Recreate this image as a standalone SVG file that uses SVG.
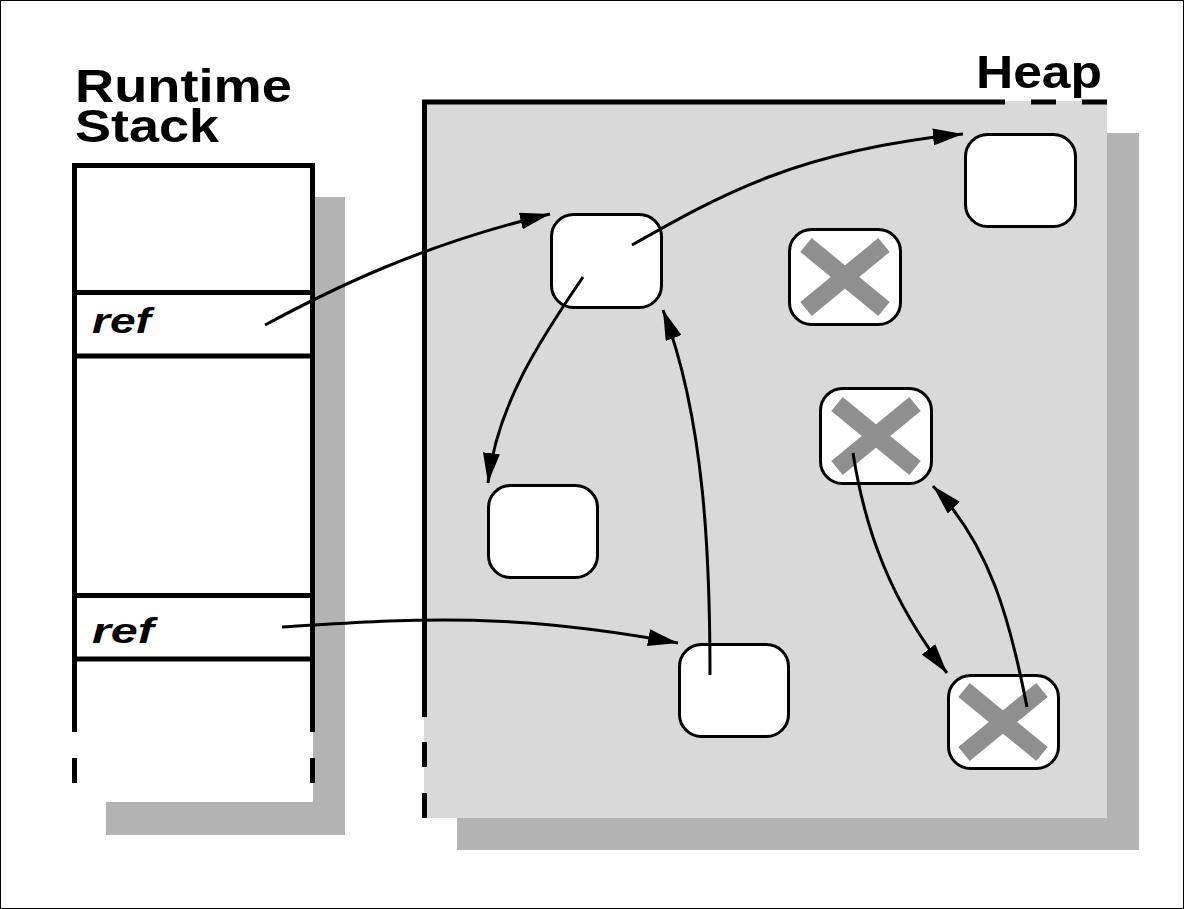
<svg xmlns="http://www.w3.org/2000/svg" width="1184" height="909" viewBox="0 0 1184 909">
<style>
.shadow{fill:#b3b3b3}
.edge{stroke:#000;stroke-width:5;fill:none}
.node{fill:#fff;stroke:#000;stroke-width:3}
.cross{stroke:#8f8f8f;stroke-width:18;stroke-linecap:butt;fill:none}
.conn{stroke:#000;stroke-width:3;fill:none;marker-end:url(#ah)}
.title{font-family:"Liberation Sans",Arial,sans-serif;font-weight:bold;font-size:47px;fill:#000}
.ref{font-family:"Liberation Sans",Arial,sans-serif;font-weight:bold;font-style:italic;font-size:35px;fill:#000}
</style>
<defs>
<marker id="ah" viewBox="0 0 30 17" refX="30" refY="8.5" markerWidth="30" markerHeight="17" markerUnits="userSpaceOnUse" orient="auto">
<path d="M0,0 L30,8.5 L0,17 z" fill="#000"/>
</marker>
</defs>
<rect x="0" y="0" width="1184" height="909" fill="#fff"/>
<rect x="0.5" y="0.5" width="1183" height="908" fill="none" stroke="#000" stroke-width="1"/>

<g id="stack">
<rect class="shadow" x="106" y="197" width="239" height="638"/>
<rect x="74" y="165" width="239" height="637" fill="#fff"/>
<line class="edge" x1="72" y1="165.5" x2="315" y2="165.5"/>
<line class="edge" x1="74.5" y1="163" x2="74.5" y2="732"/>
<line class="edge" x1="74.5" y1="758" x2="74.5" y2="783"/>
<line class="edge" x1="312.5" y1="163" x2="312.5" y2="732"/>
<line class="edge" x1="312.5" y1="758" x2="312.5" y2="783"/>
<line class="edge" x1="74" y1="292.5" x2="313" y2="292.5"/>
<line class="edge" x1="74" y1="356" x2="313" y2="356"/>
<line class="edge" x1="74" y1="595.5" x2="313" y2="595.5"/>
<line class="edge" x1="74" y1="659" x2="313" y2="659"/>
<text class="title"><tspan x="75" y="102" textLength="217" lengthAdjust="spacingAndGlyphs">Runtime</tspan><tspan x="75" y="142" textLength="144" lengthAdjust="spacingAndGlyphs">Stack</tspan></text>
<text class="ref" x="92" y="333" textLength="59" lengthAdjust="spacingAndGlyphs">ref</text>
<text class="ref" x="92" y="643" textLength="62" lengthAdjust="spacingAndGlyphs">ref</text>
</g>

<g id="heap">
<rect class="shadow" x="457" y="133" width="682" height="717"/>
<rect x="424" y="101" width="683" height="717" fill="#d9d9d9"/>
<line class="edge" x1="422" y1="102" x2="1005" y2="102"/>
<line class="edge" x1="1031" y1="102" x2="1056" y2="102"/>
<line class="edge" x1="1082" y1="102" x2="1107" y2="102"/>
<line class="edge" x1="424.5" y1="100" x2="424.5" y2="717"/>
<line class="edge" x1="424.5" y1="742" x2="424.5" y2="767"/>
<line class="edge" x1="424.5" y1="793" x2="424.5" y2="818"/>
<text class="title" x="976" y="88" textLength="126" lengthAdjust="spacingAndGlyphs">Heap</text>
</g>

<g id="obj1"><rect class="node" x="965.5" y="134.5" width="110" height="92" rx="22"/></g>
<g id="obj2"><rect class="node" x="551.5" y="214.5" width="110" height="93" rx="22"/></g>
<g id="obj3">
<rect class="node" x="789.5" y="229.5" width="111" height="95" rx="22"/>
<path class="cross" d="M806,245 L884,309 M884,245 L806,309"/>
</g>
<g id="obj4">
<rect class="node" x="820.5" y="388.5" width="111" height="95" rx="22"/>
<path class="cross" d="M837,404 L915,468 M915,404 L837,468"/>
</g>
<g id="obj5"><rect class="node" x="488.5" y="485.5" width="109" height="92" rx="22"/></g>
<g id="obj6"><rect class="node" x="679.5" y="644.5" width="109" height="92" rx="22"/></g>
<g id="obj7">
<rect class="node" x="948.5" y="675.5" width="110" height="93" rx="22"/>
<path class="cross" d="M964,690 L1042,754 M1042,690 L964,754"/>
</g>

<g id="connectors">
<path class="conn" d="M265,325 C330,290 420,245 550,214"/>
<path class="conn" d="M632,245 C720,195 800,150 963,134"/>
<path class="conn" d="M583,277 C540,340 497,405 488,483"/>
<path class="conn" d="M710,675 C710,560 705,420 663,310"/>
<path class="conn" d="M282,627 C400,620 500,610 678,643"/>
<path class="conn" d="M853,453 C865,530 890,600 947,673"/>
<path class="conn" d="M1027,707 C1010,620 990,545 933,486"/>
</g>
</svg>
